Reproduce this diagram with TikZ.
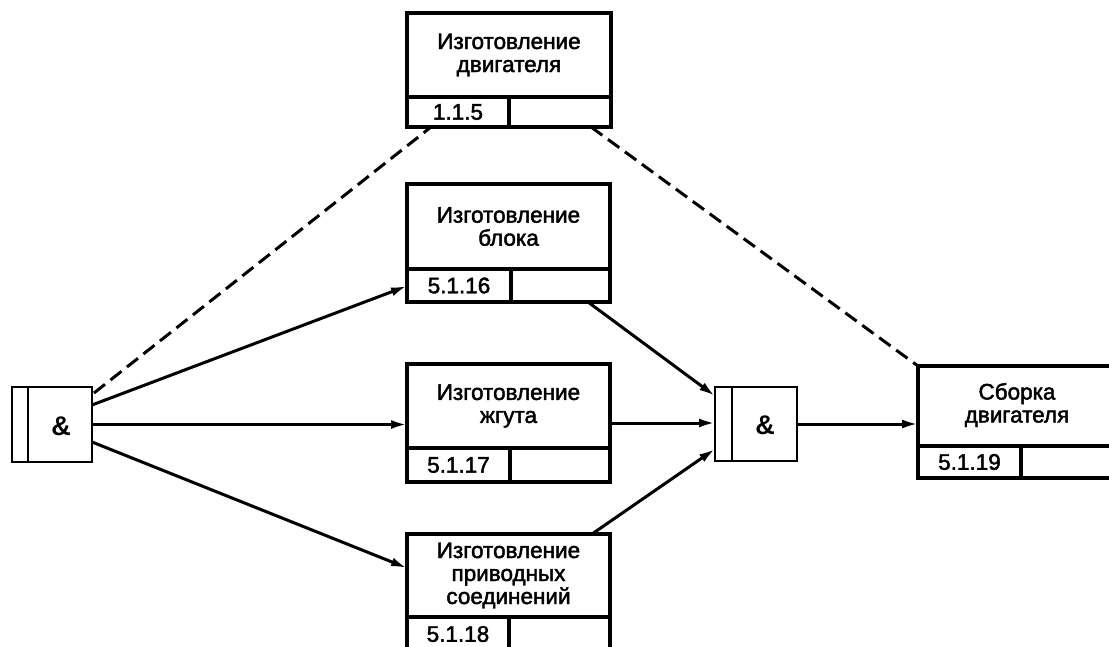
\documentclass[tikz,border=0pt]{standalone}
\usepackage{fontspec}
\setmainfont{Liberation Sans}
\newfontface\labfont{Liberation Sans}[FakeBold=2]
\usetikzlibrary{arrows.meta,calc}
\begin{document}
\begin{tikzpicture}[x=1pt,y=-1pt,
  box/.style={draw,line width=3.5pt,rectangle,inner sep=0pt,outer sep=0pt},
  div/.style={line width=3.5pt},
  ttl/.style={align=center,font=\labfont\fontsize{22.5}{23}\selectfont,inner sep=0pt},
  num/.style={font=\labfont\fontsize{22.5}{23}\selectfont,inner sep=0pt},
  gate/.style={draw,line width=2.6pt,rectangle,inner sep=0pt,outer sep=0pt},
  amp/.style={font=\bfseries\fontsize{27}{28}\selectfont,inner sep=0pt},
  arr/.style={line width=3pt,-{Latex[length=16pt,width=9pt]}},
  dsh/.style={line width=3pt,dash pattern=on 14pt off 7pt}]
\useasboundingbox (0,0) rectangle (1109,646);

% task boxes
\node[box,minimum width=204pt,minimum height=114pt] (b1) at (509,70) {};
\draw[div] (407,97) -- (611,97) (509,97) -- (509,127);
\node[ttl] (t1) at (509,55) {Изготовление\\двигателя};
\node[num] (n1) at (458,112) {1.1.5};

\node[box,minimum width=203pt,minimum height=118pt] (b2) at (508.5,243) {};
\draw[div] (407,269) -- (610,269) (511,269) -- (511,302);
\node[ttl] (t2) at (508.5,226.5) {Изготовление\\блока};
\node[num] (n2) at (459,285.5) {5.1.16};

\node[box,minimum width=203pt,minimum height=118pt] (b3) at (508.5,423) {};
\draw[div] (407,448) -- (610,448) (510,448) -- (510,482);
\node[ttl] (t3) at (508.5,406) {Изготовление\\жгута};
\node[num] (n3) at (458.5,465) {5.1.17};

\node[box,minimum width=203pt,minimum height=117pt] (b4) at (508.5,592.5) {};
\draw[div] (407,617) -- (610,617) (509,617) -- (509,651);
\node[ttl] (t4) at (508.5,575.5) {Изготовление\\приводных\\соединений};
\node[num] (n4) at (458,634) {5.1.18};

\node[box,minimum width=203pt,minimum height=112pt] (b5) at (1019.5,422) {};
\draw[div] (918,446) -- (1121,446) (1021,446) -- (1021,478);
\node[ttl] (t5) at (1017,405) {Сборка\\двигателя};
\node[num] (n5) at (969.5,462) {5.1.19};

% gates
\node[gate,minimum width=80pt,minimum height=75pt] (g1) at (52,424.5) {};
\draw[line width=2.6pt] (28,387) -- (28,462);
\node[amp] (a1) at (61,426) {\&};

\node[gate,minimum width=82pt,minimum height=74pt] (g2) at (756,424) {};
\draw[line width=2.6pt] (732,387) -- (732,461);
\node[amp] (a2) at (765,425) {\&};

% dashed links
\draw[dsh] ($(g1.north east)+(2,6)$) -- ($(b1.south west)+(24,0)$);
\draw[dsh] ($(b1.south east)+(-20,0)$) -- (b5.north west);

% arrows
\draw[arr] ($(g1.north east)+(0,18)$) -- ($(b2.south west)+(0,-16)$);
\draw[arr] (g1.east) -- (g1.east -| b3.west);
\draw[arr] ($(g1.south east)+(0,-20)$) -- ($(b4.north west)+(0,34)$);
\draw[arr] ($(b2.south east)+(-22,0)$) -- ($(g2.north west)+(0,9)$);
\draw[arr] (b3.east) -- (b3.east -| g2.west);
\draw[arr] ($(b4.north east)+(-18,0)$) -- ($(g2.south west)+(0,-12)$);
\draw[arr] (g2.east) -- (g2.east -| b5.west);
\end{tikzpicture}
\end{document}
